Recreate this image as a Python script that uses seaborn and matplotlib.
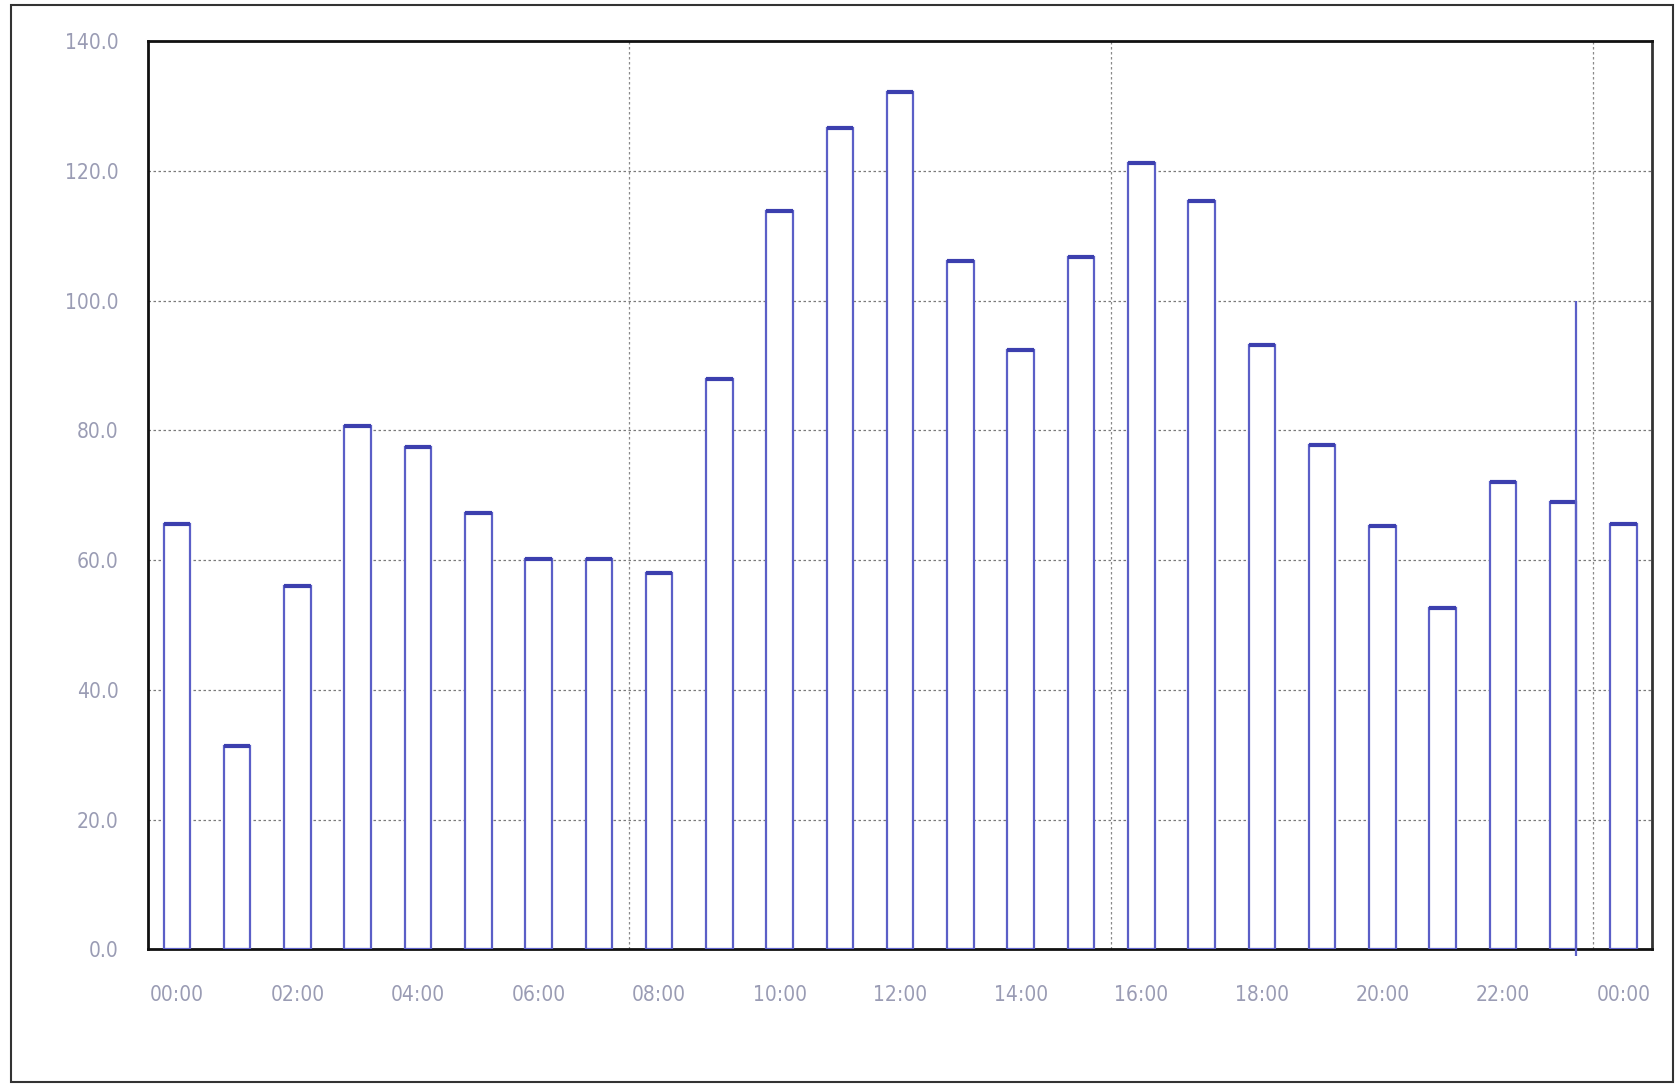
import numpy as np
import pandas as pd
import matplotlib
matplotlib.use("Agg")
import matplotlib.pyplot as plt
import seaborn as sns
from matplotlib.patches import Rectangle

# Hourly values (00:00 .. next 00:00)
HOURS = list(range(25))
VALUES = [65.5, 31.4, 56.0, 80.7, 77.4, 67.3, 60.2, 60.2, 58.0, 87.9,
          113.9, 126.6, 132.1, 106.1, 92.4, 106.8, 121.2, 115.4, 93.2, 77.7,
          65.3, 52.7, 72.1, 68.9, 65.6]
TICK_HOURS = list(range(0, 25, 2))
TICK_LABELS = ["00:00", "02:00", "04:00", "06:00", "08:00", "10:00", "12:00",
               "14:00", "16:00", "18:00", "20:00", "22:00", "00:00"]
Y_TICKS = [0, 20, 40, 60, 80, 100, 120, 140]
V_GRID = [7.5, 15.5, 23.5]
# stray vertical marker line in the original (hour, value)
MARKER_HOUR = 23.21
MARKER_VALUE = 100.0

BAR_EDGE = "#5b5fc7"
BAR_TOP = "#3c3fae"
TEXT_COL = "#9a9cb4"
BAR_W = 0.44

sns.set_style("white")
plt.rcParams["font.family"] = ["DejaVu Sans"]
plt.rcParams["font.stretch"] = "condensed"

df = pd.DataFrame({"hour": HOURS, "value": VALUES})

fig = plt.figure(figsize=(16.81, 10.85), dpi=100)
ax = fig.add_axes([0.088, 0.125, 0.895, 0.837])

sns.barplot(data=df, x="hour", y="value", native_scale=True, width=BAR_W,
            color="white", saturation=1, edgecolor=BAR_EDGE, linewidth=1.6,
            ax=ax, zorder=3)

hrs = np.array(HOURS, dtype=float)
ax.hlines(VALUES, hrs - BAR_W / 2, hrs + BAR_W / 2, color=BAR_TOP,
          linewidth=3, zorder=4)
ax.vlines(MARKER_HOUR, -1, MARKER_VALUE, color=BAR_EDGE, linewidth=1.6,
          zorder=5, clip_on=False)

ax.set_xlim(-0.48, 24.48)
ax.set_ylim(0, 140)

for y in Y_TICKS[1:-1]:
    ax.axhline(y, color="#7a7a7a", linestyle=(0, (2, 2)), linewidth=0.9, zorder=1)
for x in V_GRID:
    ax.axvline(x, color="#8a8a8a", linestyle=(0, (2, 2)), linewidth=0.9, zorder=1)

ax.set_xticks(TICK_HOURS)
ax.set_xticklabels(TICK_LABELS)
ax.set_yticks(Y_TICKS)
ax.set_yticklabels([f"{v:.1f}" for v in Y_TICKS])
ax.tick_params(axis="both", colors=TEXT_COL, labelsize=15, length=5,
               direction="out", width=1)
ax.tick_params(axis="x", pad=26, length=0)
ax.tick_params(axis="y", pad=16)
ax.set_xlabel("")
ax.set_ylabel("")

for side in ["left", "bottom", "top"]:
    ax.spines[side].set_color("#111111")
    ax.spines[side].set_linewidth(2)
ax.spines["right"].set_color("#333333")
ax.spines["right"].set_linewidth(2)

# outer frame of the scanned picture
fig.patches.append(Rectangle((0.0064, 0.003), 0.989, 0.992, transform=fig.transFigure,
                             fill=False, edgecolor="#333333", linewidth=1.5))

fig.savefig("out.png", dpi=100)
